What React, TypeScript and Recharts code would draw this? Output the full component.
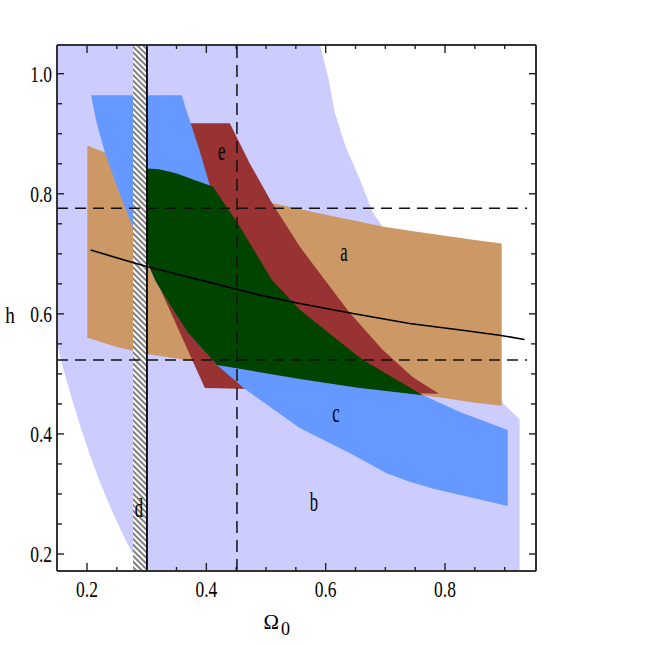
import React from 'react';
import { ComposedChart, Area, Line, Scatter, XAxis, YAxis, ReferenceLine } from 'recharts';

const TOP = 1.0478;
const BOTTOM = 0.1717;
const OMEGA_MIN = 0.1497;
const OMEGA_MAX = 0.9525;

// b: light lavender band
const bOmega = [0.1497, 0.16, 0.175, 0.19, 0.205, 0.22, 0.235, 0.25, 0.265, 0.277, 0.2923, 0.5905, 0.605, 0.615, 0.633, 0.657, 0.679, 0.695, 0.75, 0.8, 0.85, 0.8967, 0.925];
const bLow = [0.5497, 0.5095, 0.457, 0.409, 0.3647, 0.3242, 0.2874, 0.2536, 0.2228, 0.2, BOTTOM, BOTTOM, BOTTOM, BOTTOM, BOTTOM, BOTTOM, BOTTOM, BOTTOM, BOTTOM, BOTTOM, BOTTOM, BOTTOM, BOTTOM];
const bHigh = [TOP, TOP, TOP, TOP, TOP, TOP, TOP, TOP, TOP, TOP, TOP, TOP, 0.991, 0.936, 0.88, 0.825, 0.769, 0.746, 0.64, 0.57, 0.51, 0.452, 0.424];

// a: tan band
const aOmega = [0.2005, 0.23, 0.25, 0.3, 0.35, 0.372, 0.41, 0.45, 0.506, 0.55, 0.612, 0.65, 0.695, 0.75, 0.8, 0.85, 0.895];
const aLow = [0.56, 0.551, 0.545, 0.533, 0.5255, 0.522, 0.5163, 0.5098, 0.5, 0.4925, 0.4832, 0.4776, 0.472, 0.466, 0.4595, 0.452, 0.4471];
const aHigh = [0.8806, 0.8689, 0.861, 0.8425, 0.834, 0.826, 0.8125, 0.801, 0.7855, 0.776, 0.7626, 0.755, 0.7454, 0.737, 0.73, 0.723, 0.717];

// e: dark red band
const eOmega = [0.2887, 0.3054, 0.3172, 0.3573, 0.3975, 0.4393, 0.4728, 0.5096, 0.5565, 0.5983, 0.6402, 0.6954, 0.7456, 0.7891];
const eLow = [0.7237, 0.687, 0.6536, 0.5651, 0.4766, 0.4756, 0.4748, 0.4738, 0.4727, 0.4717, 0.4706, 0.4692, 0.4679, 0.4668];
const eHigh = [0.9174, 0.9174, 0.9174, 0.9174, 0.9174, 0.9174, 0.8506, 0.7855, 0.712, 0.6569, 0.6018, 0.5401, 0.495, 0.4674];

// c: blue band
const cOmega = [0.2067, 0.2167, 0.2301, 0.2519, 0.2771, 0.3004, 0.3155, 0.3389, 0.359, 0.3659, 0.369, 0.3738, 0.3894, 0.4061, 0.4176, 0.45, 0.4644, 0.55, 0.5565, 0.6402, 0.65, 0.7021, 0.7406, 0.7623, 0.7791, 0.824, 0.905];
const cLow = [0.9641, 0.9157, 0.8689, 0.8072, 0.7437, 0.687, 0.6536, 0.6152, 0.5839, 0.5732, 0.5684, 0.5631, 0.546, 0.5276, 0.515, 0.4873, 0.475, 0.4144, 0.4098, 0.3681, 0.3628, 0.3347, 0.3202, 0.314, 0.3092, 0.2988, 0.2801];
const cHigh = [0.9641, 0.9641, 0.9641, 0.9641, 0.9641, 0.9641, 0.9641, 0.9641, 0.9641, 0.9407, 0.9315, 0.9173, 0.8695, 0.8128, 0.7702, 0.65, 0.6356, 0.55, 0.5468, 0.5049, 0.5, 0.4837, 0.4717, 0.4649, 0.4573, 0.437, 0.4065];

// overlap of all constraints (dark green)
const gOmega = [0.3004, 0.3155, 0.3222, 0.3389, 0.3501, 0.369, 0.3774, 0.4109, 0.4176, 0.4561, 0.5096, 0.5565, 0.6569, 0.6619, 0.7623];
const gLow = [0.687, 0.6536, 0.6426, 0.6152, 0.5978, 0.5684, 0.5592, 0.5224, 0.515, 0.5085, 0.4994, 0.4915, 0.4766, 0.476, 0.4645];
const gHigh = [0.8422, 0.8411, 0.8406, 0.8366, 0.8339, 0.827, 0.8239, 0.8122, 0.8023, 0.7454, 0.6569, 0.6068, 0.5274, 0.5234, 0.4649];

// d: hatched strip
const dOmega = [0.2771, 0.3005];
const dLow = [BOTTOM, BOTTOM];
const dHigh = [TOP, TOP];

// solid curve
const curveOmega = [0.2062, 0.2765, 0.3016, 0.4895, 0.5565, 0.6457, 0.7406, 0.8293, 0.8912, 0.9331];
const curveH = [0.7062, 0.6857, 0.6783, 0.6312, 0.6173, 0.6007, 0.584, 0.5728, 0.5645, 0.5573];

const dashedH = [0.776, 0.523];
const dashedHEnd = 0.9376;
const dashedOmega = 0.4513;

const labelNames = ['a', 'b', 'c', 'd', 'e'];
const labelOmega = [0.6307, 0.5804, 0.6173, 0.2871, 0.4257];
const labelH = [0.6878, 0.2717, 0.42, 0.2617, 0.8562];

const xTicks = [0.2, 0.25, 0.3, 0.35, 0.4, 0.45, 0.5, 0.55, 0.6, 0.65, 0.7, 0.75, 0.8, 0.85, 0.9];
const yTicks = [0.2, 0.25, 0.3, 0.35, 0.4, 0.45, 0.5, 0.55, 0.6, 0.65, 0.7, 0.75, 0.8, 0.85, 0.9, 0.95, 1.0];
const majorTicks = [0.2, 0.4, 0.6, 0.8, 1.0];

const band = (xs: number[], lo: number[], hi: number[]) => xs.map((x, i) => ({ x, r: [lo[i], hi[i]] }));

const bData = band(bOmega, bLow, bHigh);
const aData = band(aOmega, aLow, aHigh);
const eData = band(eOmega, eLow, eHigh);
const cData = band(cOmega, cLow, cHigh);
const gData = band(gOmega, gLow, gHigh);
const dData = band(dOmega, dLow, dHigh);
const curveData = curveOmega.map((x, i) => ({ x, h: curveH[i] }));
const labelData = labelNames.map((t, i) => ({ x: labelOmega[i], y: labelH[i], t }));

const FONT = '"Liberation Serif", "Times New Roman", serif';
const TICK = '#222';
const isMajor = (v: number) => majorTicks.some((m) => Math.abs(m - v) < 1e-6);

const BottomTick = ({ x, y, payload }: any) => {
  const major = isMajor(payload.value);
  return (
    <g>
      <line x1={x} y1={y} x2={x} y2={y - (major ? 8 : 4)} stroke={TICK} strokeWidth={1.4} />
      {major && (
        <text transform={`translate(${x},${y + 26}) scale(0.76,1)`} textAnchor="middle" fontFamily={FONT} fontSize={23} fill="#000">
          {payload.value.toFixed(1)}
        </text>
      )}
    </g>
  );
};

const TopTick = ({ x, y, payload }: any) => (
  <line x1={x} y1={y} x2={x} y2={y + (isMajor(payload.value) ? 8 : 4)} stroke={TICK} strokeWidth={1.4} />
);

const LeftTick = ({ x, y, payload }: any) => {
  const major = isMajor(payload.value);
  return (
    <g>
      <line x1={x} y1={y} x2={x + (major ? 7 : 5)} y2={y} stroke={TICK} strokeWidth={1.4} />
      {major && (
        <text transform={`translate(${x - 5},${y + 8}) scale(0.76,1)`} textAnchor="end" fontFamily={FONT} fontSize={23} fill="#000">
          {payload.value.toFixed(1)}
        </text>
      )}
    </g>
  );
};

const RightTick = ({ x, y, payload }: any) => (
  <line x1={x} y1={y} x2={x - (isMajor(payload.value) ? 7 : 5)} y2={y} stroke={TICK} strokeWidth={1.4} />
);

const HLabel = ({ viewBox }: any) => (
  <text transform={`translate(${viewBox.x + 10},${viewBox.y + viewBox.height / 2 + 15}) scale(0.8,1)`} textAnchor="middle" fontFamily={FONT} fontSize={24} fill="#000">
    h
  </text>
);

const OmegaLabel = ({ viewBox }: any) => (
  <text transform={`translate(${viewBox.x + viewBox.width / 2 - 33},${viewBox.y + 58}) scale(0.95,1)`} fontFamily={FONT} fontSize={22} fill="#000">
    Ω<tspan fontSize={19} dx={2} dy={6}>0</tspan>
  </text>
);

const Letter = ({ cx, cy, payload }: any) => (
  <text transform={`translate(${cx},${cy}) scale(0.64,1.05)`} textAnchor="middle" fontFamily={FONT} fontSize={26} fill="#000">
    {payload.t}
  </text>
);

const regionProps = { dataKey: 'r', type: 'linear' as const, stroke: 'none', fillOpacity: 1, dot: false, activeDot: false, isAnimationActive: false };

export default function App() {
  return (
    <div style={{ position: 'absolute', left: 0, top: 0, background: '#fff' }}>
      <ComposedChart width={647} height={645} margin={{ top: 44, right: 110, bottom: 0, left: 0 }}>
        <defs>
          <pattern id="hatchD" width="4" height="4" patternUnits="userSpaceOnUse" patternTransform="rotate(-45)">
            <rect width="4" height="4" fill="#fff" />
            <line x1="1" y1="0" x2="1" y2="4" stroke="#555" strokeWidth="1.5" />
          </pattern>
        </defs>

        <Area {...regionProps} data={bData} fill="#ccccff" />
        <Area {...regionProps} data={aData} fill="#cc9966" />
        <Area {...regionProps} data={eData} fill="#993333" />
        <Area {...regionProps} data={cData} fill="#6699ff" />
        <Area {...regionProps} data={gData} fill="#004400" />
        <Area {...regionProps} data={dData} fill="url(#hatchD) #999" />

        <XAxis dataKey="x" type="number" domain={[OMEGA_MIN, OMEGA_MAX]} allowDataOverflow ticks={xTicks} interval={0}
          tickSize={0} tickMargin={0} tickLine={false} tick={<BottomTick />} height={74}
          axisLine={{ stroke: '#333', strokeWidth: 2 }} label={<OmegaLabel />} />
        <XAxis xAxisId="top" orientation="top" dataKey="x" type="number" domain={[OMEGA_MIN, OMEGA_MAX]} allowDataOverflow
          ticks={xTicks} interval={0} tickSize={0} tickMargin={0} tickLine={false} tick={<TopTick />} height={1}
          axisLine={{ stroke: '#333', strokeWidth: 2 }} />
        <YAxis type="number" domain={[BOTTOM, TOP]} allowDataOverflow ticks={yTicks} interval={0}
          tickSize={0} tickMargin={0} tickLine={false} tick={<LeftTick />} width={57}
          axisLine={{ stroke: '#333', strokeWidth: 2 }} label={<HLabel />} />
        <YAxis yAxisId="right" orientation="right" type="number" domain={[BOTTOM, TOP]} allowDataOverflow ticks={yTicks} interval={0}
          tickSize={0} tickMargin={0} tickLine={false} tick={<RightTick />} width={1}
          axisLine={{ stroke: '#333', strokeWidth: 2 }} />

        <ReferenceLine x={dOmega[1]} stroke="#000" strokeWidth={1.8} />
        {dashedH.map((v) => (
          <ReferenceLine key={v} segment={[{ x: OMEGA_MIN, y: v }, { x: dashedHEnd, y: v }]} stroke="#111" strokeWidth={1.5} strokeDasharray="11 7" />
        ))}
        <ReferenceLine x={dashedOmega} stroke="#111" strokeWidth={1.5} strokeDasharray="12 7" />

        <Line data={curveData} dataKey="h" type="linear" stroke="#000" strokeWidth={1.6} dot={false} activeDot={false} isAnimationActive={false} />
        <Scatter data={labelData} dataKey="y" shape={<Letter />} isAnimationActive={false} />
      </ComposedChart>
    </div>
  );
}
